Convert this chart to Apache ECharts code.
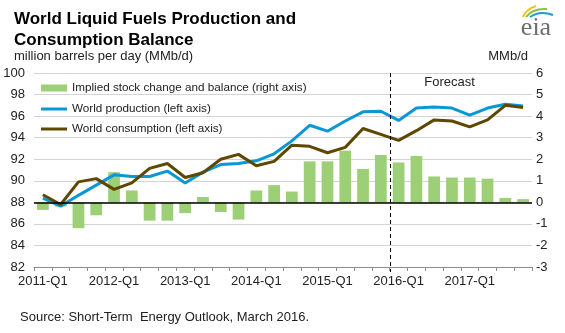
<!DOCTYPE html>
<html>
<head>
<meta charset="utf-8">
<script src="https://cdn.jsdelivr.net/npm/echarts@6/dist/echarts.min.js"></script>
<style>
html,body{margin:0;padding:0;background:#fff;}
#chart{width:565px;height:333px;}
</style>
</head>
<body>
<div id="chart"></div>
<script>
var categories = [
  '2011-Q1','2011-Q2','2011-Q3','2011-Q4',
  '2012-Q1','2012-Q2','2012-Q3','2012-Q4',
  '2013-Q1','2013-Q2','2013-Q3','2013-Q4',
  '2014-Q1','2014-Q2','2014-Q3','2014-Q4',
  '2015-Q1','2015-Q2','2015-Q3','2015-Q4',
  '2016-Q1','2016-Q2','2016-Q3','2016-Q4',
  '2017-Q1','2017-Q2','2017-Q3','2017-Q4'
];
var balance = [-0.35,-0.2,-1.2,-0.6,1.4,0.55,-0.85,-0.85,-0.5,0.25,-0.45,-0.8,0.55,0.8,0.5,1.9,1.9,2.4,1.55,2.2,1.85,2.15,1.2,1.15,1.15,1.1,0.2,0.15];
var production = [88.4,87.65,88.65,89.6,90.55,90.4,90.4,90.9,89.8,90.8,91.5,91.6,91.85,92.5,93.7,95.15,94.6,95.55,96.4,96.45,95.6,96.75,96.85,96.75,96.1,96.75,97.1,96.95];
var consumption = [88.7,87.8,89.9,90.2,89.2,89.8,91.15,91.6,90.3,90.75,92.0,92.45,91.4,91.8,93.3,93.2,92.6,93.1,94.85,94.3,93.75,94.65,95.65,95.55,95.0,95.65,97.0,96.8];
var leftTicks = {min: 82, max: 100, interval: 2};
var rightTicks = {min: -3, max: 6, interval: 1};
var forecastStart = '2016-Q1';

var names = {
  bal: 'Implied stock change and balance (right axis)',
  prod: 'World production (left axis)',
  cons: 'World consumption (left axis)'
};
var FONT = 'Arial, "Liberation Sans", sans-serif';

var chart = echarts.init(document.getElementById('chart'), null, {renderer: 'canvas'});
var option = {
  animation: false,
  backgroundColor: '#ffffff',
  textStyle: {fontFamily: FONT},
  title: [
    {text: 'World Liquid Fuels Production and\nConsumption Balance', left: 9, top: 4,
     textStyle: {fontSize: 17, fontWeight: 'bold', color: '#000', lineHeight: 21, fontFamily: FONT}},
    {text: 'million barrels per day (MMb/d)', left: 9, top: 45,
     textStyle: {fontSize: 13, fontWeight: 'normal', color: '#222', fontFamily: FONT}},
    {text: 'MMb/d', right: 32, top: 45,
     textStyle: {fontSize: 13, fontWeight: 'normal', color: '#222', fontFamily: FONT}},
    {text: 'Source: Short-Term  Energy Outlook, March 2016.', left: 15, top: 306,
     textStyle: {fontSize: 13, fontWeight: 'normal', color: '#222', fontFamily: FONT}}
  ],
  legend: [
    {data: [names.bal], left: 36, top: 77, itemWidth: 26, itemHeight: 7, icon: 'rect',
     itemGap: 8, textStyle: {fontSize: 11.7, color: '#222', fontFamily: FONT}},
    {data: [names.prod, names.cons], orient: 'vertical', left: 36, top: 98, itemWidth: 26, itemHeight: 3,
     icon: 'rect', itemGap: 8, textStyle: {fontSize: 11.7, color: '#222', fontFamily: FONT}}
  ],
  grid: {left: 34, right: 33, top: 73, height: 194, containLabel: false},
  xAxis: {
    type: 'category', data: categories, boundaryGap: true,
    axisLine: {onZero: false, lineStyle: {color: '#8c8c8c', width: 1}},
    axisTick: {show: true, interval: 0, length: 4, lineStyle: {color: '#8c8c8c'}},
    axisLabel: {interval: 3, fontSize: 13, color: '#222', margin: 8, fontFamily: FONT},
    splitLine: {show: false}
  },
  yAxis: [
    {type: 'value', min: leftTicks.min, max: leftTicks.max, interval: leftTicks.interval, position: 'left',
     axisLine: {show: false}, axisTick: {show: false},
     axisLabel: {fontSize: 13, color: '#222', margin: 9, fontFamily: FONT},
     splitLine: {show: true, lineStyle: {color: '#d4d4d4', width: 1}}},
    {type: 'value', min: rightTicks.min, max: rightTicks.max, interval: rightTicks.interval, position: 'right',
     axisLine: {show: false}, axisTick: {show: false},
     axisLabel: {fontSize: 13, color: '#222', margin: 4, fontFamily: FONT},
     splitLine: {show: false}}
  ],
  series: [
    {name: names.bal, type: 'bar', yAxisIndex: 1, data: balance, barWidth: '66%',
     itemStyle: {color: '#9dcf76'}, z: 2,
     markLine: {silent: true, symbol: 'none', label: {show: false},
       lineStyle: {color: '#000', width: 1.5, type: 'solid'}, data: [{yAxis: 0}]}},
    {name: names.cons, type: 'line', yAxisIndex: 0, data: consumption, symbol: 'none',
     lineStyle: {color: '#5e4800', width: 3}, itemStyle: {color: '#5e4800'}, z: 4},
    {name: names.prod, type: 'line', yAxisIndex: 0, data: production, symbol: 'none',
     lineStyle: {color: '#0b97d6', width: 3}, itemStyle: {color: '#0b97d6'}, z: 3}
  ]
};
chart.setOption(option);

// forecast divider placed through the category scale
var idx = categories.indexOf(forecastStart);
var c0 = chart.convertToPixel({xAxisIndex: 0}, categories[idx - 1]);
var c1 = chart.convertToPixel({xAxisIndex: 0}, categories[idx]);
var xDiv = Math.round((c0 + c1) / 2) + 0.5;
var yTop = chart.convertToPixel({yAxisIndex: 0}, leftTicks.max);
var yBot = chart.convertToPixel({yAxisIndex: 0}, leftTicks.min);

chart.setOption({
  graphic: [
    {type: 'line', silent: true, z: 10,
     shape: {x1: xDiv, y1: yTop, x2: xDiv, y2: yBot + 5},
     style: {stroke: '#000', lineWidth: 1, lineDash: [4, 3]}},
    {type: 'text', silent: true, z: 10, x: xDiv + 59, y: yTop + 9,
     style: {text: 'Forecast', fontSize: 13, fontFamily: FONT, fill: '#222', align: 'center', verticalAlign: 'middle'}},
    // eia logo
    {type: 'text', silent: true, x: 536, y: 28,
     style: {text: 'eia', font: '26px "Liberation Serif", "DejaVu Serif", serif', fill: '#6d6d6d', align: 'center', verticalAlign: 'middle'}},
    {type: 'bezierCurve', silent: true,
     shape: {x1: 523, y1: 17, cpx1: 526, cpy1: 9, x2: 536, y2: 6},
     style: {stroke: '#f5c21b', lineWidth: 2, fill: null}},
    {type: 'bezierCurve', silent: true,
     shape: {x1: 526, y1: 17, cpx1: 533, cpy1: 8, x2: 547, y2: 9},
     style: {stroke: '#8bc34a', lineWidth: 2, fill: null}},
    {type: 'bezierCurve', silent: true,
     shape: {x1: 530, y1: 17, cpx1: 540, cpy1: 10, x2: 553, y2: 15},
     style: {stroke: '#1c9ad6', lineWidth: 2, fill: null}}
  ]
});
</script>
</body>
</html>
